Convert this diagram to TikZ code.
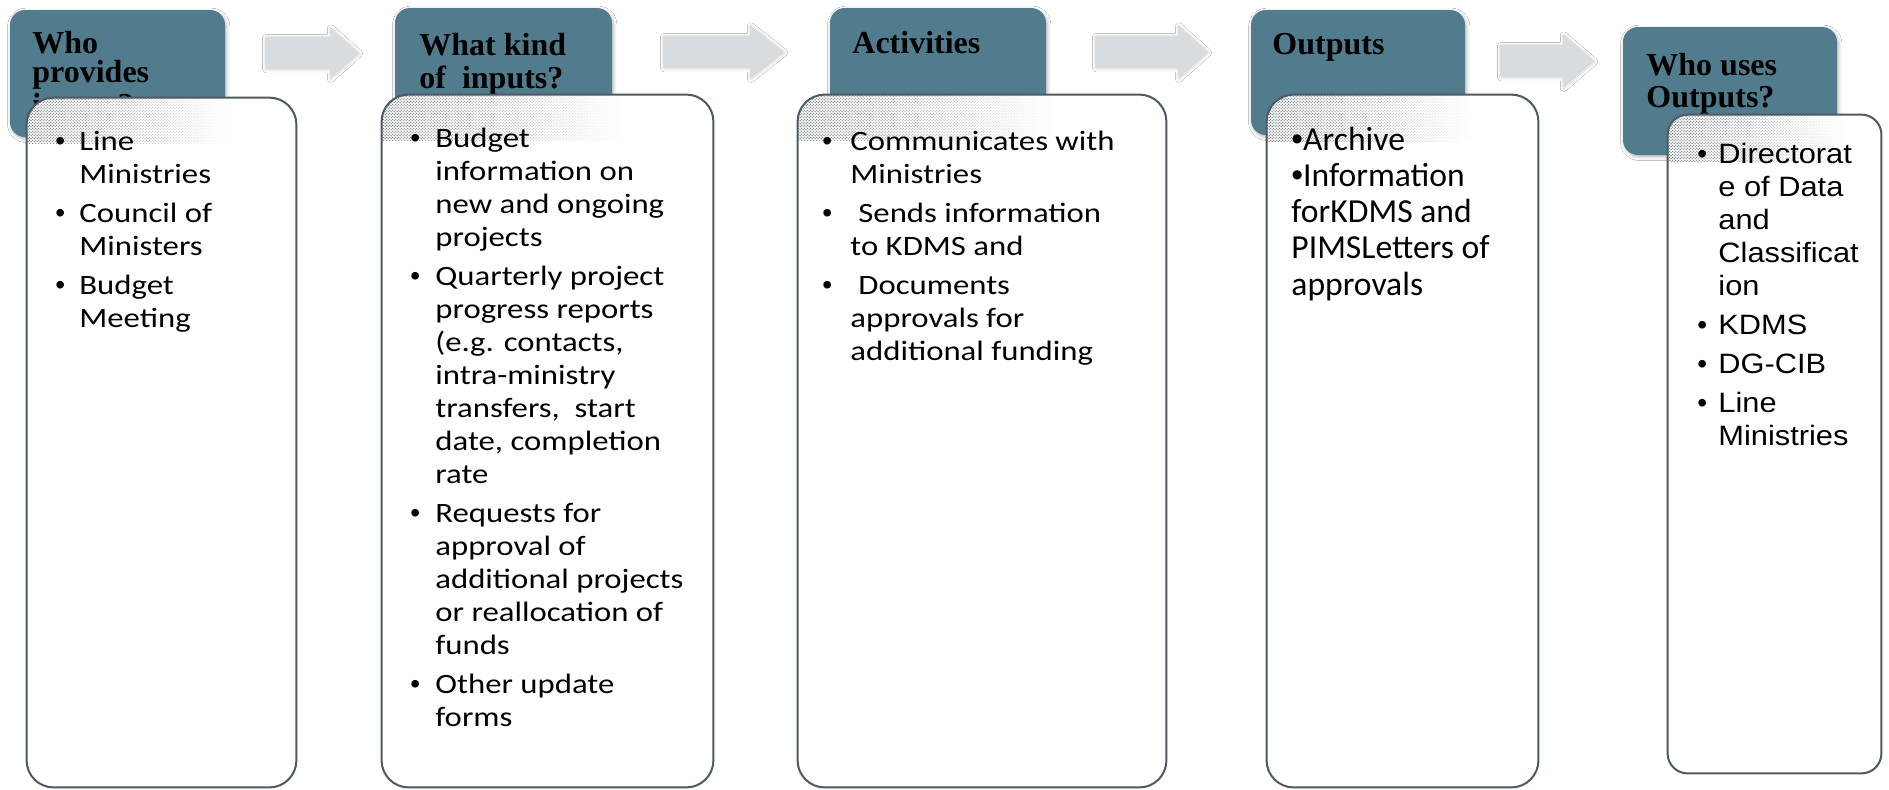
\documentclass[tikz,border=0pt]{standalone}
\usepackage{fontspec}
\setmainfont{Liberation Serif}
\newfontfamily\calibwide[FakeStretch=1.17]{Carlito}
\newfontfamily\calibplain{Carlito}
\newfontfamily\arialwide[FakeStretch=1.1]{Liberation Sans}
\newfontfamily\bulfont{Liberation Sans}
\usetikzlibrary{patterns,fadings,shadows.blur}

\definecolor{hdrblue}{RGB}{80,124,142}
\definecolor{arrowgray}{RGB}{216,220,222}
\definecolor{edgegray}{RGB}{77,90,97}
\definecolor{dotgray}{RGB}{118,128,134}

\pgfdeclarepatternformonly{hdots}{\pgfqpoint{0pt}{0pt}}{\pgfqpoint{1.7pt}{1.7pt}}{\pgfqpoint{1.7pt}{1.7pt}}{%
  \pgfpathcircle{\pgfqpoint{0.425pt}{0.425pt}}{0.42pt}%
  \pgfpathcircle{\pgfqpoint{1.275pt}{1.275pt}}{0.42pt}%
  \pgfusepath{fill}}

\tikzfading[name=dotfade, left color=transparent!0, middle color=transparent!10, right color=transparent!100]

\newcommand\sbul{{\bulfont\textbullet}}
\newcommand\bodyA{\calibwide\fontsize{14}{16.5}\selectfont}
\newcommand\bodyB{\calibplain\fontsize{16.8}{18.15}\selectfont\lineskiplimit=-20pt}
\newcommand\bodyC{\arialwide\fontsize{14}{16.5}\selectfont}
\newcommand\hdrA{\bfseries\fontsize{16}{14.5}\selectfont\lineskiplimit=-20pt}
\newcommand\hdrB{\bfseries\fontsize{16}{16.5}\selectfont\lineskiplimit=-20pt}
\newcommand\hdrC{\bfseries\fontsize{16}{16}\selectfont\lineskiplimit=-20pt}

\tikzset{
  hdr/.style={fill=hdrblue, rounded corners=7.5pt, inner sep=0,
    blur shadow={shadow xshift=0.6pt, shadow yshift=-0.9pt, shadow opacity=30, shadow blur steps=4}},
  hdrtext/.style={inner sep=0, anchor=base west, text=black},
  bodybox/.style={fill=white, rounded corners=13.5pt, inner sep=0},
  bodyedge/.style={draw=edgegray, line width=1pt, rounded corners=13.5pt},
  bodytext/.style={inner sep=0, anchor=base west, text=black},
  blockarrow/.style={fill=arrowgray,
    blur shadow={shadow xshift=0.5pt, shadow yshift=-0.8pt, shadow opacity=22, shadow blur steps=4}},
  dotfill/.style={pattern=hdots, pattern color=dotgray, path fading=dotfade}
}

\begin{document}
\begin{tikzpicture}[x=0.5pt, y=-0.5pt]
\useasboundingbox (0,0) rectangle (1889,789);
\fill[white] (0,0) rectangle (1889,789);

% block arrows
\fill[blockarrow] (265,36.5) -- (330,36.5) -- (330,27) -- (358,52) -- (330,77) -- (330,67.5) -- (265,67.5) -- cycle;
\fill[blockarrow] (663,35.5) -- (750,35.5) -- (750,25) -- (783,51) -- (750,77) -- (750,66.5) -- (663,66.5) -- cycle;
\fill[blockarrow] (1095,35.5) -- (1178,35.5) -- (1178,25) -- (1207,51) -- (1178,77) -- (1178,66.5) -- (1095,66.5) -- cycle;
\fill[blockarrow] (1500,44.5) -- (1563,44.5) -- (1563,34) -- (1593,60) -- (1563,86) -- (1563,75.5) -- (1500,75.5) -- cycle;

% headers
\node[hdr, minimum width=107.5pt, minimum height=63.5pt] (h1) at (117.5,73.5) {};
\node[hdr, minimum width=108.5pt, minimum height=63.5pt] (h2) at (503.5,71.5) {};
\node[hdr, minimum width=108pt, minimum height=63.5pt] (h3) at (938,71.5) {};
\node[hdr, minimum width=107pt, minimum height=62.5pt] (h4) at (1358,72.5) {};
\node[hdr, minimum width=107pt, minimum height=64pt] (h5) at (1730,91) {};

\node[hdrtext, font=\hdrA] (h1t) at (32,53) {\vtop{\hbox{Who}\hbox{provides}\vskip2pt\hbox{inputs?}}};
\node[hdrtext, font=\hdrB] (h2t) at (419,55) {\vtop{\hbox{What kind}\hbox{of\ \ inputs?}}};
\node[hdrtext, font=\hdrA] (h3t) at (852,53) {Activities};
\node[hdrtext, font=\hdrA] (h4t) at (1272,54) {Outputs};
\node[hdrtext, font=\hdrC] (h5t) at (1646,75) {\vtop{\hbox{Who uses}\hbox{Outputs?}}};

% bodies
\node[bodybox, minimum width=134.5pt, minimum height=344.5pt] (b1) at (161.5,442.5) {};
\node[bodybox, minimum width=165.5pt, minimum height=346pt] (b2) at (547.5,441) {};
\node[bodybox, minimum width=184pt, minimum height=346pt] (b3) at (982,441) {};
\node[bodybox, minimum width=135.5pt, minimum height=346pt] (b4) at (1402.5,441) {};
\node[bodybox, rounded corners=10pt, minimum width=106.5pt, minimum height=329pt] (b5) at (1774.5,444) {};

% halftone overlap dots
\begin{scope}
 \clip[rounded corners=13.5pt] (b1.south west) rectangle (b1.north east);
 \fill[dotfill] (b1.north west) rectangle (232,143);
\end{scope}
\begin{scope}
 \clip[rounded corners=13.5pt] (b2.south west) rectangle (b2.north east);
 \fill[dotfill] (b2.north west) rectangle (622,140);
\end{scope}
\begin{scope}
 \clip[rounded corners=13.5pt] (b3.south west) rectangle (b3.north east);
 \fill[dotfill] (b3.north west) rectangle (1054,140);
\end{scope}
\begin{scope}
 \clip[rounded corners=13.5pt] (b4.south west) rectangle (b4.north east);
 \fill[dotfill] (b4.north west) rectangle (1474,141);
\end{scope}
\begin{scope}
 \clip[rounded corners=10pt] (b5.south west) rectangle (b5.north east);
 \fill[dotfill] (b5.north west) rectangle (1846,161);
\end{scope}

\draw[bodyedge] (b1.south west) rectangle (b1.north east);
\draw[bodyedge] (b2.south west) rectangle (b2.north east);
\draw[bodyedge] (b3.south west) rectangle (b3.north east);
\draw[bodyedge] (b4.south west) rectangle (b4.north east);
\draw[bodyedge, rounded corners=10pt] (b5.south west) rectangle (b5.north east);

% body texts
\node[bodytext, font=\bodyA] (t1) at (55,150) {\begin{tabular}[t]{@{}p{12pt}@{}l@{}}
\sbul & Line\\ & Ministries\\[3pt]
\sbul & Council of\\ & Ministers\\[3pt]
\sbul & Budget\\ & Meeting
\end{tabular}};

\node[bodytext, font=\bodyA] (t2) at (410,147) {\begin{tabular}[t]{@{}p{12.5pt}@{}l@{}}
\sbul & Budget\\ & information on\\ & new and ongoing\\ & projects\\[3pt]
\sbul & Quarterly project\\ & progress reports\\ & (e.g. contacts,\\ & intra-ministry\\ & transfers,\ \ start\\ & date, completion\\ & rate\\[3pt]
\sbul & Requests for\\ & approval of\\ & additional projects\\ & or reallocation of\\ & funds\\[3pt]
\sbul & Other update\\ & forms
\end{tabular}};

\node[bodytext, font=\bodyA] (t3) at (822,150) {\begin{tabular}[t]{@{}p{14pt}@{}l@{}}
\sbul & Communicates with\\ & Ministries\\[3pt]
\sbul & \hspace*{4pt}Sends information\\ & to KDMS and\\[3pt]
\sbul & \hspace*{4pt}Documents\\ & approvals for\\ & additional funding
\end{tabular}};

\node[bodytext, font=\bodyB] (t4) at (1291,150) {\vtop{\hbox{\sbul Archive}\hbox{\sbul Information}\hbox{forKDMS and}\hbox{PIMSLetters of}\hbox{approvals}}};

\node[bodytext, font=\bodyC] (t5) at (1697,163) {\begin{tabular}[t]{@{}p{10.5pt}@{}l@{}}
\sbul & Directorat\\ & e of Data\\ & and\\ & Classificat\\ & ion\\[3pt]
\sbul & KDMS\\[3pt]
\sbul & DG-CIB\\[3pt]
\sbul & Line\\ & Ministries
\end{tabular}};
\end{tikzpicture}
\end{document}
